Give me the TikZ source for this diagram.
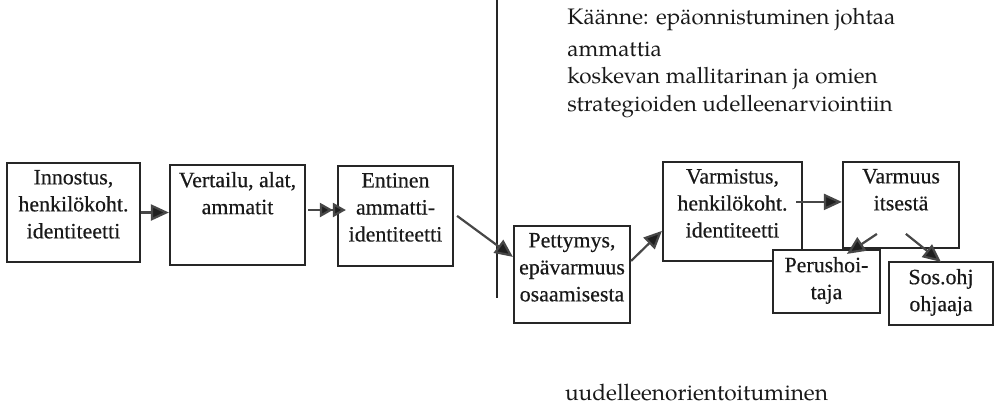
\documentclass[tikz,border=0pt]{standalone}
\usepackage{fontspec}
\usepackage{graphicx}
\setmainfont{Liberation Serif}
\newfontfamily\boxfont{Liberation Serif}[FakeBold=0.4]
\newfontfamily\pagella{texgyrepagella-regular.otf}
\usetikzlibrary{arrows.meta,calc}

% one unit of the drawing grid
\newdimen\pxu \pxu=0.5pt

% font sizes chosen from the widths of reference lines
\newlength\probe
\settowidth\probe{\boxfont\fontsize{10}{12}\selectfont henkilökoht.}
\pgfmathsetmacro\stagesize{10*55/\probe}
\settowidth\probe{\pagella\fontsize{10}{12}\selectfont Käänne: epäonnistuminen johtaa}
\pgfmathsetmacro\notesize{10*164/\probe}
\settowidth\probe{\pagella\fontsize{10}{12}\selectfont uudelleenorientoituminen}
\pgfmathsetmacro\endsize{10*131.5/\probe}

% box text: width, height (grid units), lines set from the top
\newcommand\boxlines[3]{\parbox[c][#2\pxu][t]{#1\pxu}{\centering
  \boxfont\fontsize{\stagesize}{13.5}\selectfont\vspace{3.5pt}#3\par}}

\begin{document}
\begin{tikzpicture}[x=0.5pt,y=-0.5pt,
  stage/.style={draw=black!85, line width=1.1pt, fill=white, inner sep=0pt,
    text=black!90},
  flow/.style={draw=black!72, line width=1.1pt,
    -{Triangle[length=9pt,width=8pt,fill=black!88]}},
  flowtwo/.style={draw=black!72, line width=1.1pt,
    -{Triangle[length=6.5pt,width=7pt,fill=black!88]Triangle[length=6.5pt,width=7pt,fill=black!88]}},
  note/.style={inner sep=0pt, text=black!90}]

\useasboundingbox (0,0) rectangle (1000,409);

% dividing line
\coordinate (divtop) at (497,0);
\coordinate (divbot) at (497,298);
\draw[line width=1.1pt, black!85] (divtop) -- (divbot);

% stages
\node[stage] (inn) at (73.5,212.5) {\boxlines{133}{99}{Innostus,\\henkilökoht.\\identiteetti}};
\node[stage] (vert) at (237.5,215) {\boxlines{135}{100}{Vertailu, alat,\\ammatit}};
\node[stage] (ent) at (395.5,216) {\boxlines{115}{100}{Entinen\\ammatti-\\identiteetti}};
\node[stage] (pet) at (572,274.5) {\boxlines{116}{97}{Pettymys,\\epävarmuus\\osaamisesta}};
\node[stage] (var) at (732.5,211.5) {\boxlines{139}{99}{Varmistus,\\henkilökoht.\\identiteetti}};
\node[stage] (vmu) at (901,205) {\boxlines{116}{86}{Varmuus\\itsestä}};
\node[stage] (per) at (826.5,281.5) {\boxlines{107}{63}{Perushoi-\\taja}};
\node[stage] (sos) at (941,293.5) {\boxlines{104}{63}{Sos.ohj\\ohjaaja}};

% texts
\node[note, anchor=north west, align=left,
  font=\pagella\fontsize{\notesize}{13.75}\selectfont] (turn) at (567,8)
  {Käänne: epäonnistuminen johtaa\\[2pt]ammattia\\koskevan mallitarinan ja omien\\strategioiden udelleenarviointiin};
\node[note, anchor=base, font=\pagella\fontsize{\endsize}{12}\selectfont] (reorient) at (696.5,400)
  {uudelleenorientoituminen};

% connectors
\draw[flow] (inn.east) -- (inn.east -| vert.west);
\draw[flowtwo] ($(vert.east)+(2,-5)$) -- ($(ent.west)+(9,-6)$);
\draw[flow] ($(ent.north east)+(3,51)$) -- ($(pet.north west)+(0,32)$);
\draw[flow] ($(pet.north east)+(0,36)$) -- ($(var.north west)+(0,70)$);
\draw[flow] ($(var.north east)+(-7,41)$) -- ($(vmu.north west)+(0,41)$);
\draw[flow] ($(vmu.north west)+(35,73)$) -- ($(per.north west)+(75,5)$);
\draw[flow] ($(vmu.north west)+(64,73)$) -- ($(sos.north west)+(53,1)$);
\end{tikzpicture}
\end{document}
